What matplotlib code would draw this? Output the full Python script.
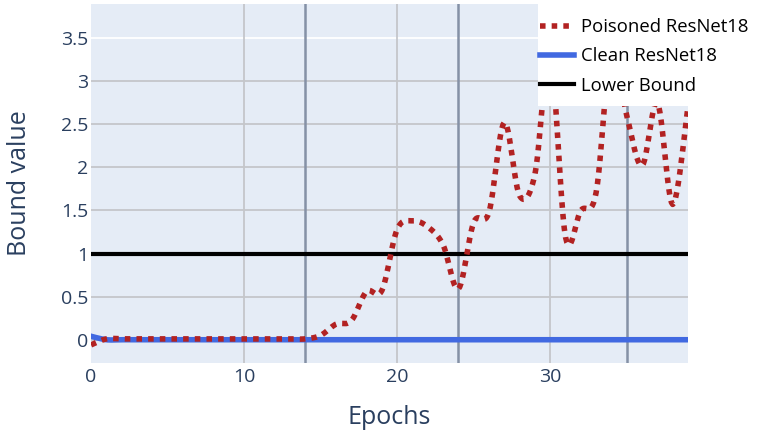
import matplotlib
matplotlib.use("Agg")
import matplotlib.pyplot as plt
from matplotlib.patches import Rectangle
import numpy as np

# Data
epochs = list(range(40))
poisoned = [-0.06, 0.01, 0.01, 0.01, 0.01, 0.01, 0.01, 0.01, 0.01, 0.01,
            0.01, 0.01, 0.01, 0.01, 0.01, 0.05, 0.18, 0.22, 0.56, 0.57,
            1.28, 1.38, 1.31, 1.10, 0.59, 1.36, 1.48, 2.52, 1.67, 1.92,
            3.30, 1.19, 1.50, 1.71, 3.40, 2.60, 2.02, 2.75, 1.57, 2.71]
clean = [0.04] + [0.0] * 39
lower_bound = 1.0
marked_epochs = [14, 24, 35]
y_ticks = [0, 0.5, 1, 1.5, 2, 2.5, 3, 3.5]
y_tick_labels = ["0", "0.5", "1", "1.5", "2", "2.5", "3", "3.5"]
x_ticks = [0, 10, 20, 30]

TEXT = "#2a3f5f"
W, H = 767, 433
plt.rcParams["font.family"] = ["Open Sans", "DejaVu Sans"]


def smooth(x, y, n=12):
    # Catmull-Rom spline through the points (like plotly's line_shape='spline')
    x = np.asarray(x, float)
    y = np.asarray(y, float)
    px = np.concatenate([[x[0]], x, [x[-1]]])
    py = np.concatenate([[y[0]], y, [y[-1]]])
    xs, ys = [], []
    t = np.linspace(0, 1, n, endpoint=False)
    for i in range(1, len(px) - 2):
        for arr, out in ((px, xs), (py, ys)):
            p0, p1, p2, p3 = arr[i - 1], arr[i], arr[i + 1], arr[i + 2]
            out.extend(0.5 * ((2 * p1) + (-p0 + p2) * t
                              + (2 * p0 - 5 * p1 + 4 * p2 - p3) * t ** 2
                              + (-p0 + 3 * p1 - 3 * p2 + p3) * t ** 3))
    xs.append(x[-1])
    ys.append(y[-1])
    return np.array(xs), np.array(ys)


fig = plt.figure(figsize=(W / 100, H / 100), dpi=100)
ax = fig.add_axes([91 / W, 1 - 363 / H, 597 / W, 359 / H])
ax.set_facecolor("#e5ecf6")
for s in ax.spines.values():
    s.set_visible(False)

# grid lines
for v in y_ticks:
    ax.axhline(v, color="white" if v > 3 else "#c4c6ca", lw=1.3, zorder=1)
for v in x_ticks[1:]:
    ax.axvline(v, color="#c4c6ca", lw=1.3, zorder=1)
for v in marked_epochs:
    ax.axvline(v, color="#8591a6", lw=1.8, zorder=1)

sx, sy = smooth(epochs, poisoned)
ax.plot(sx, sy, color="#b22222", lw=4.0, linestyle=(0, (1, 1.1)),
        dash_capstyle="butt", label="Poisoned ResNet18", zorder=3)
cx, cy = smooth(epochs, clean)
ax.plot(cx, cy, color="#4169e1", lw=4.0, label="Clean ResNet18", zorder=2)
ax.axhline(lower_bound, color="black", lw=3.0, label="Lower Bound", zorder=2)

ax.set_xlim(0, 39)
ax.set_ylim(-0.27, 3.895)
ax.set_xticks(x_ticks)
ax.set_yticks(y_ticks)
ax.set_yticklabels(y_tick_labels)
ax.tick_params(length=0, labelsize=14, labelcolor=TEXT)
ax.tick_params(axis="y", pad=2)
ax.tick_params(axis="x", pad=3.5)
ax.set_xlabel("Epochs", fontsize=18, color=TEXT, labelpad=14)
ax.set_ylabel("Bound value", fontsize=18, color=TEXT, labelpad=21)

# white legend box, reaching the right edge of the figure
fig.patches.append(Rectangle((538 / W, 1 - 106 / H), (W - 538) / W, 102 / H,
                             transform=fig.transFigure, facecolor="white",
                             edgecolor="none", zorder=9))
leg = fig.legend(loc="upper left", bbox_to_anchor=(540 / W, 1 - 18 / H),
                 frameon=False, fontsize=13.3,
                 handlelength=1.85, handletextpad=0.38, labelspacing=0.62,
                 borderpad=0, borderaxespad=0)
leg.set_zorder(10)

fig.savefig("out.png", dpi=100)
